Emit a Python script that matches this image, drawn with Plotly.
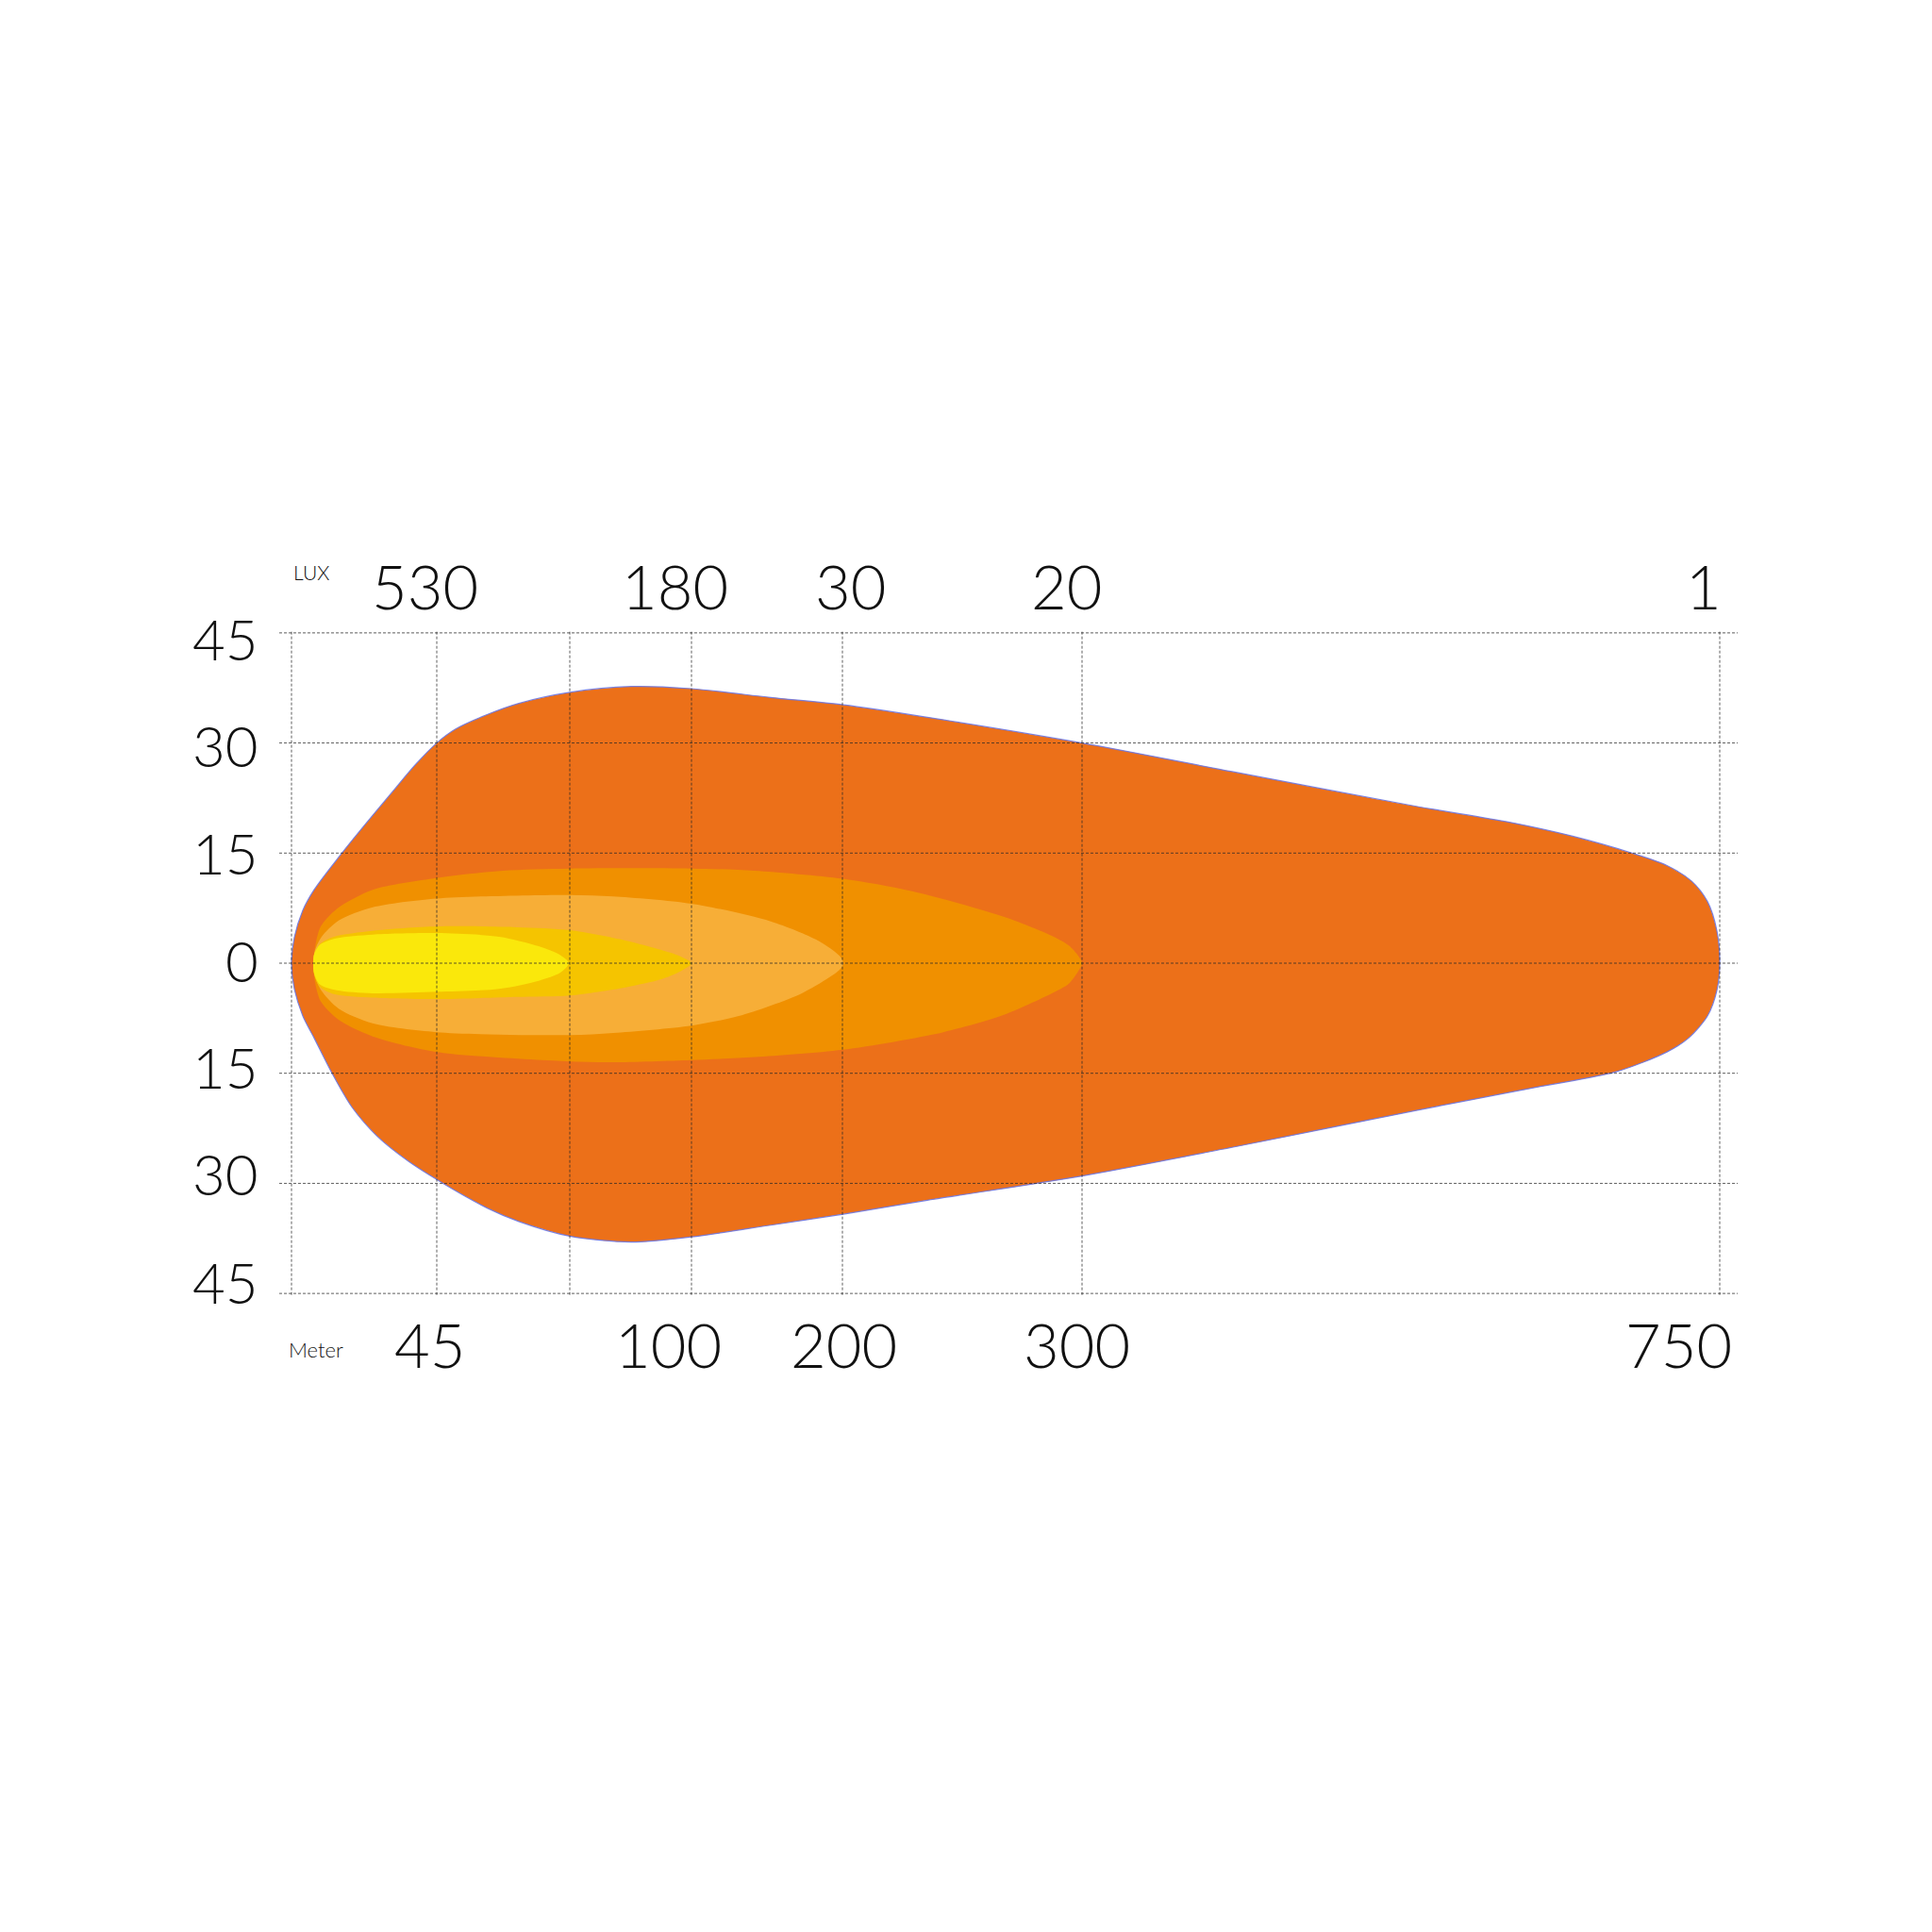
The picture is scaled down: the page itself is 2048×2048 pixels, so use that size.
import plotly.graph_objects as go

# ---------------- data ----------------
# horizontal: chart units along the beam (gridline positions), vertical: degrees
grid_x = [0, 154, 295, 424, 584, 838, 1514]
grid_y = [-45, -30, -15, 0, 15, 30, 45]
y_tick_text = ["45", "30", "15", "0", "15", "30", "45"]

meter_labels = ["45", "100", "200", "300", "750"]
meter_grid = [154, 424, 584, 838, 1514]
lux_labels = ["530", "180", "30", "20", "1"]
lux_grid = [154, 424, 584, 838, 1514]

# outer zone (1 lux) contour
outer_x = [0, 3, 12, 24, 51, 80, 108, 131, 154, 174, 208, 241, 295, 360, 424, 508, 585, 674, 838, 997,
           1191, 1291, 1358, 1421, 1458, 1484, 1501, 1511, 1514,
           1511, 1501, 1481, 1458, 1404, 1324, 1191, 997, 838, 674, 585, 508, 424, 360, 295, 241,
           208, 162, 124, 91, 64, 43, 24, 12, 3]
outer_y = [0, 3.5, 7.2, 10.0, 14.6, 19.2, 23.5, 27.0, 30.0, 31.9, 33.9, 35.4, 36.9, 37.7, 37.4, 36.2,
           35.2, 33.5, 30.0, 26.1, 21.4, 19.2, 17.3, 15.0, 13.3, 11.2, 8.4, 4.4, 0,
           -3.7, -7.2, -10.2, -12.1, -14.8, -16.8, -20.1, -25.1, -29.0, -32.3, -34.2, -35.7, -37.3,
           -38.0, -37.2, -35.2, -33.4, -30.1, -27.0, -23.6, -19.6, -15.0, -10.2, -7.2, -3.5]

# 20 lux zone
z20_x = [23, 25, 31, 48, 86, 154, 224, 295, 424, 491, 584, 658, 758, 808, 824, 834, 838,
         834, 824, 808, 758, 691, 584, 491, 424, 341, 295, 154, 91, 51, 31, 25]
z20_y = [0, 2.2, 5.0, 7.4, 10.0, 11.6, 12.6, 12.9, 12.9, 12.6, 11.5, 9.8, 6.2, 3.6, 2.4, 1.0, 0,
         -1.1, -2.8, -4.0, -6.9, -9.4, -11.8, -12.8, -13.2, -13.5, -13.4, -12.1, -10.2, -7.8, -5.2, -2.6]

# 30 lux zone
z30_x = [23, 25, 32, 50, 86, 154, 295, 341, 424, 508, 558, 581, 585,
         581, 541, 474, 424, 341, 295, 154, 86, 50, 32, 25]
z30_y = [0, 1.8, 3.6, 5.8, 7.6, 8.8, 9.3, 9.1, 8.1, 5.7, 3.1, 1.0, 0,
         -0.9, -4.1, -7.2, -8.5, -9.5, -9.8, -9.4, -8.2, -6.2, -3.8, -1.9]

# 180 lux zone
z180_x = [23, 24, 30, 45, 86, 154, 239, 295, 354, 392, 411, 424,
          411, 392, 354, 295, 239, 154, 86, 45, 30, 24]
z180_y = [0, 1.2, 2.6, 3.6, 4.4, 5.0, 4.9, 4.5, 3.1, 1.8, 1.0, 0,
          -1.2, -2.2, -3.3, -4.4, -4.6, -4.9, -4.7, -4.2, -3.2, -1.5]

# 530 lux zone
z530_x = [23, 24, 30, 48, 86, 154, 220, 262, 285, 294, 285, 262, 220, 154, 86, 48, 30, 24]
z530_y = [0, 1.2, 2.5, 3.4, 3.9, 4.1, 3.6, 2.3, 1.1, 0, -1.3, -2.4, -3.5, -3.9, -4.1, -3.7, -2.9, -1.4]

# ---------------- figure ----------------
FONT = "Lato"
fig = go.Figure()


def closed(xs, ys):
    # start the closed outline at its top so the spline seam sits on a flat stretch
    k = ys.index(max(ys))
    return xs[k:] + xs[:k] + [xs[k]], ys[k:] + ys[:k] + [ys[k]]


zones = [
    (outer_x, outer_y, "#EC7019", "rgba(110,120,225,0.9)"),
    (z20_x, z20_y, "#F09000", "rgba(0,0,0,0)"),
    (z30_x, z30_y, "#F7AE37", "rgba(0,0,0,0)"),
    (z180_x, z180_y, "#F5C400", "rgba(0,0,0,0)"),
    (z530_x, z530_y, "#FAE80B", "rgba(0,0,0,0)"),
]
for xs, ys, fc, lc in zones:
    cx, cy = closed(xs, ys)
    fig.add_trace(go.Scatter(
        x=cx, y=cy, mode="lines", fill="toself", fillcolor=fc,
        line=dict(color=lc, width=1.2, shape="spline", smoothing=0.8),
        hoverinfo="skip", showlegend=False))

# gridlines on top of the fills
gx, gy = [], []
for v in grid_x:
    gx += [v, v, None]
    gy += [grid_y[0] - 0.2, grid_y[-1] + 0.2, None]
hx, hy = [], []
for v in grid_y:
    hx += [-13, 1533, None]
    hy += [v, v, None]
for xs, ys in [(gx, gy), (hx, hy)]:
    fig.add_trace(go.Scatter(
        x=xs, y=ys, mode="lines",
        line=dict(color="rgba(40,40,40,0.75)", width=1, dash="3px,2px"),
        hoverinfo="skip", showlegend=False))

TXT = "#111"
ann = []
# y labels (left of the grid); the labels sit slightly closer together than the gridlines
y_lab_shift = [12.5, 10.5, 6.5, 3.5, 0.5, -2.5, -6.5]
for v, t, s in zip(grid_y, y_tick_text, y_lab_shift):
    ann.append(dict(x=0, y=v, xref="paper", yref="y", text=t, showarrow=False,
                    xanchor="right", yanchor="middle", xshift=-20, yshift=s,
                    font=dict(family=FONT, size=60, color=TXT, weight=300)))
# lux labels on top
lux_shift = [-13, -18, 8, -17, -17]
for lab, g, s in zip(lux_labels, lux_grid, lux_shift):
    ann.append(dict(x=g, y=1.065, xref="x", yref="paper", text=lab, showarrow=False,
                    xanchor="center", yanchor="middle", xshift=s,
                    font=dict(family=FONT, size=65, color=TXT, weight=300)))
# meter labels at bottom
m_shift = [-8, -25, 1, -6, -44]
for lab, g, s in zip(meter_labels, meter_grid, m_shift):
    ann.append(dict(x=g, y=-0.0706, xref="x", yref="paper", text=lab, showarrow=False,
                    xanchor="center", yanchor="middle", xshift=s,
                    font=dict(family=FONT, size=65, color=TXT, weight=300)))
ann.append(dict(x=0, y=1.086, xref="x", yref="paper", text="LUX", showarrow=False,
                xanchor="left", yanchor="middle",
                font=dict(family=FONT, size=21, color=TXT, weight=300)))
ann.append(dict(x=-5, y=-0.0777, xref="x", yref="paper", text="Meter", showarrow=False,
                xanchor="left", yanchor="middle",
                font=dict(family=FONT, size=22, color=TXT, weight=300)))

fig.update_layout(
    width=2048, height=2048,
    margin=dict(l=288, r=214, t=659, b=681, pad=0),
    paper_bgcolor="white", plot_bgcolor="rgba(0,0,0,0)",
    xaxis=dict(range=[-13, 1533], visible=False, fixedrange=True),
    yaxis=dict(range=[-45.5, 45.5], visible=False, fixedrange=True),
    annotations=ann,
    showlegend=False,
)

fig.write_html("out.html")
